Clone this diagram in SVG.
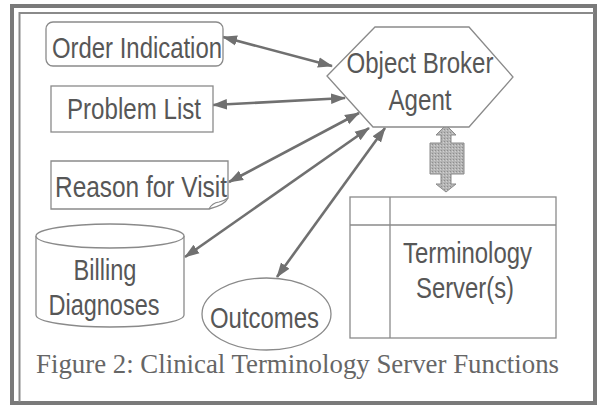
<svg xmlns="http://www.w3.org/2000/svg" width="597" height="409" viewBox="0 0 597 409">
<style>
.shape{fill:#fff;stroke:#8a8a8a;stroke-width:1.3}
.lbl{font-family:"Liberation Sans",Arial,sans-serif;font-size:30px;fill:#575757;text-anchor:middle}
.cap{font-family:"Liberation Serif","Times New Roman",serif;font-size:27px;fill:#666}
.conn{stroke:#707070;stroke-width:2.6;fill:none;marker-start:url(#ah);marker-end:url(#ah)}
</style>
<defs>
<marker id="ah" markerUnits="userSpaceOnUse" markerWidth="15" markerHeight="12" refX="14" refY="6" orient="auto-start-reverse">
<path d="M0,0.8 L15,6 L0,11.2 Z" fill="#707070"/>
</marker>
<pattern id="dots" width="3" height="3" patternUnits="userSpaceOnUse">
<rect width="3" height="3" fill="#b4b4b4"/>
<rect width="1" height="1" fill="#8e8e8e"/>
<rect x="2" y="1" width="1" height="1" fill="#d0d0d0"/>
</pattern>
</defs>
<rect width="597" height="409" fill="#fff"/>
<g id="frame">
<rect x="12" y="6" width="583" height="397" fill="none" stroke="#7a7a7a" stroke-width="4"/>
<path d="M19.5,402 V13 H594" fill="none" stroke="#8a8a8a" stroke-width="2"/>
</g>
<g id="connectors">
<line class="conn" x1="332" y1="66" x2="223" y2="37"/>
<line class="conn" x1="345" y1="98" x2="213" y2="105"/>
<line class="conn" x1="359" y1="113" x2="229" y2="182"/>
<line class="conn" x1="369" y1="128" x2="185" y2="257"/>
<line class="conn" x1="385" y1="128" x2="277" y2="277"/>
<path id="bigarrow" d="M446,125 L456,135 H451 V143 H464 V174 H451 V184 H456 L446,192 L436,184 H441 V174 H430 V143 H441 V135 H436 Z" fill="url(#dots)" stroke="#8a8a8a" stroke-width="1"/>
</g>
<g id="order-indication">
<rect class="shape" x="46" y="22" width="177" height="44" rx="7"/>
<text class="lbl" x="137" y="58" textLength="170" lengthAdjust="spacingAndGlyphs">Order Indication</text>
</g>
<g id="problem-list">
<rect class="shape" x="51" y="86" width="162" height="46"/>
<text class="lbl" x="134" y="119" textLength="134" lengthAdjust="spacingAndGlyphs">Problem List</text>
</g>
<g id="reason-for-visit">
<path class="shape" d="M51,161 H228 V198 Q225,205 209,209 H51 Z"/>
<path d="M209,209 Q212,203 219,202 Q224,201 228,198" fill="none" stroke="#8a8a8a" stroke-width="1.2"/>
<text class="lbl" x="141" y="197" textLength="172" lengthAdjust="spacingAndGlyphs">Reason for Visit</text>
</g>
<g id="object-broker-agent">
<polygon class="shape" points="327,76 375,27 469,27 513,77 469,127 373,127"/>
<text class="lbl" x="420" y="73" textLength="147" lengthAdjust="spacingAndGlyphs">Object Broker</text>
<text class="lbl" x="420" y="110" textLength="63" lengthAdjust="spacingAndGlyphs">Agent</text>
</g>
<g id="billing-diagnoses">
<path class="shape" d="M36,236 V315 A74,12 0 0 0 184,315 V236"/>
<ellipse class="shape" cx="110" cy="236" rx="74" ry="12"/>
<text class="lbl" x="105" y="280" textLength="63" lengthAdjust="spacingAndGlyphs">Billing</text>
<text class="lbl" x="104" y="315" textLength="111" lengthAdjust="spacingAndGlyphs">Diagnoses</text>
</g>
<g id="outcomes">
<ellipse class="shape" cx="266.5" cy="314" rx="64.5" ry="36"/>
<text class="lbl" x="264.5" y="328" textLength="109" lengthAdjust="spacingAndGlyphs">Outcomes</text>
</g>
<g id="terminology-servers">
<rect class="shape" x="350" y="197" width="206" height="141"/>
<line x1="390" y1="197" x2="390" y2="338" stroke="#8a8a8a" stroke-width="1.3"/>
<line x1="350" y1="225" x2="556" y2="225" stroke="#8a8a8a" stroke-width="1.3"/>
<text class="lbl" x="467.5" y="263" textLength="129" lengthAdjust="spacingAndGlyphs">Terminology</text>
<text class="lbl" x="465" y="298" textLength="98" lengthAdjust="spacingAndGlyphs">Server(s)</text>
</g>
<text class="cap" x="36" y="373" textLength="523" lengthAdjust="spacingAndGlyphs">Figure 2: Clinical Terminology Server Functions</text>
</svg>
